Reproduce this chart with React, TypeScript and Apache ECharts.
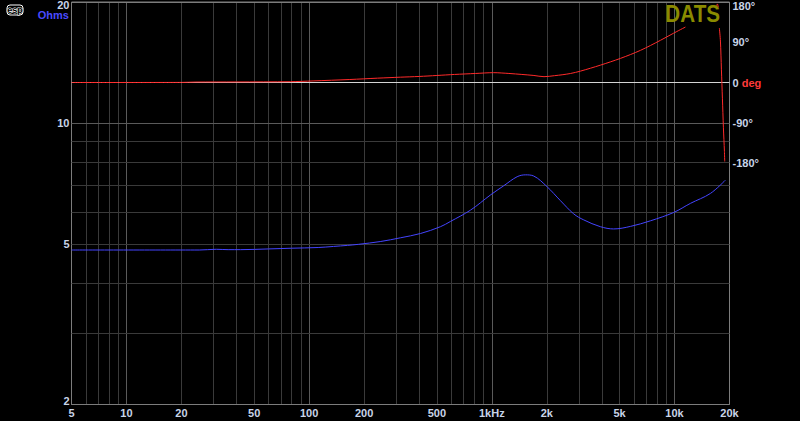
import React, { useEffect, useRef } from 'react';
import * as echarts from 'echarts';

// Impedance magnitude (Ohms) vs frequency (Hz)
const freqZ = [5, 25, 31, 36, 42, 60, 80, 112, 136, 162, 186, 245, 316, 407, 523, 594, 764, 982, 1162, 1375, 1527, 1696, 2008, 2374, 2808, 3185, 3931, 4648, 5738, 7380, 9900, 12220, 15725, 19000];
const ohms = [4.84, 4.84, 4.86, 4.85, 4.85, 4.87, 4.89, 4.91, 4.94, 4.97, 5.0, 5.08, 5.19, 5.32, 5.53, 5.7, 6.08, 6.63, 6.99, 7.36, 7.44, 7.39, 6.95, 6.42, 5.95, 5.75, 5.53, 5.46, 5.54, 5.72, 6.0, 6.32, 6.69, 7.22];

// Phase (degrees) vs frequency (Hz); null = gap in the trace
const freqP = [5, 20, 24, 40, 79, 105, 167, 237, 316, 400, 500, 625, 815, 1020, 1240, 1460, 1700, 1930, 2200, 2450, 2700, 3055, 3930, 5057, 6505, 8374, 9862, 11478, 14000, 16960, 17170, 17390, 17500, 17600, 17840, 18060, 18290, 18520, 18760, 18830];
const phaseDeg: (number | null)[] = [0, 0.2, 1, 1.2, 1.8, 3.5, 6.7, 9.7, 11.9, 13.5, 15.7, 18, 20.2, 22, 20.2, 18, 15.7, 13, 15.2, 17.5, 20.2, 25.4, 38.8, 53.9, 71.8, 94.3, 110, 124, null, 168, 175.7, 168, null, 121.8, 92.7, 29.8, -35, -100, -154, -176.6];

// Axes / grid
const freqGrid = [5, 6, 7, 8, 9, 10, 20, 30, 40, 50, 60, 70, 80, 90, 100, 200, 300, 400, 500, 600, 700, 800, 900, 1000, 2000, 3000, 4000, 5000, 6000, 7000, 8000, 9000, 10000, 20000];
const freqDecades = [10, 100, 1000, 10000];
const freqTicks = [5, 10, 20, 50, 100, 200, 500, 1000, 2000, 5000, 10000, 20000];
const freqTickLabels = ['5', '10', '20', '50', '100', '200', '500', '1kHz', '2k', '5k', '10k', '20k'];
const ohmGrid = [2, 3, 4, 5, 6, 7, 8, 9, 10, 20];
const ohmTicks = [2, 5, 10, 20];
const ohmTickLabels = ['2', '5', '10', '20'];
const phaseTicks = [180, 90, 0, -90, -180];
const phaseTickLabels = ['180°', '90°', '0 deg', '-90°', '-180°'];

const FONT = '"Liberation Sans", Arial, sans-serif';
const LABEL = '#c8d4e8';
const BORDER = '#7c7c7c';
const MINOR = '#3a3a3a';
const MAJOR = '#5a5a5a';

const txt = { color: LABEL, fontSize: 11, fontWeight: 'bold', fontFamily: FONT };

export default function App() {
  const ref = useRef<HTMLDivElement>(null);
  useEffect(() => {
    if (!ref.current) return;
    const chart = echarts.init(ref.current, null, { renderer: 'svg' });

    const xLines = freqGrid.map((f) => {
      const idx = freqTicks.indexOf(f);
      const edge = f === 5 || f === 20000;
      return {
        xAxis: f,
        name: idx >= 0 ? freqTickLabels[idx] : '',
        lineStyle: { color: edge ? BORDER : freqDecades.includes(f) ? MAJOR : MINOR },
        label: { show: idx >= 0, distance: 3 },
      };
    });
    const yLines = ohmGrid.map((v) => {
      const idx = ohmTicks.indexOf(v);
      const edge = v === 2 || v === 20;
      return {
        yAxis: v,
        name: idx >= 0 ? ohmTickLabels[idx] : '',
        lineStyle: { color: edge ? BORDER : v === 10 ? MAJOR : MINOR },
        label: { show: idx >= 0, distance: 2 },
      };
    });

    const option: any = {
      animation: false,
      backgroundColor: '#000',
      grid: {
        left: 71.5,
        top: 1.5,
        width: 658,
        height: 403,
        show: true,
        borderColor: BORDER,
        borderWidth: 1,
        backgroundColor: 'transparent',
      },
      xAxis: {
        type: 'log',
        logBase: 10,
        min: 5,
        max: 20000,
        axisLine: { show: false },
        axisTick: { show: false },
        axisLabel: { show: false },
        splitLine: { show: false },
      },
      yAxis: [
        {
          type: 'log',
          logBase: 10,
          min: 2,
          max: 20,
          axisLine: { show: false },
          axisTick: { show: false },
          axisLabel: { show: false },
          splitLine: { show: false },
        },
        {
          type: 'value',
          position: 'right',
          min: -720,
          max: 180,
          interval: 90,
          axisLine: { show: false },
          axisTick: { show: false },
          splitLine: { show: false },
          axisLabel: {
            margin: 3,
            ...txt,
            formatter: (v: number) => {
              const i = phaseTicks.indexOf(v);
              if (i < 0) return '';
              if (v === 180) return '{top|' + phaseTickLabels[i] + '}';
              if (v === 0) {
                const parts = phaseTickLabels[i].split(' ');
                return '{w|' + parts[0] + ' }{r|' + parts[1] + '}';
              }
              return '{w|' + phaseTickLabels[i] + '}';
            },
            rich: {
              top: { padding: [7, 0, 0, 0], ...txt },
              w: { ...txt },
              r: { ...txt, color: '#ff3a3a' },
            },
          },
        },
      ],
      graphic: [
        {
          type: 'text',
          x: 69,
          y: 15,
          style: {
            text: 'Ohms',
            fill: '#4a4aff',
            font: 'bold 11px ' + FONT,
            align: 'right',
            verticalAlign: 'middle',
          },
        },
        {
          type: 'text',
          x: 720,
          y: 14,
          z: 100,
          scaleX: 0.86,
          style: {
            text: 'DATS',
            fill: '#8a8a00',
            font: 'bold 24px ' + FONT,
            align: 'right',
            verticalAlign: 'middle',
          },
        },
        {
          type: 'rect',
          shape: { x: 7, y: 5, width: 16, height: 10, r: 3 },
          style: { fill: '#000', stroke: '#fff', lineWidth: 1 },
        },
        {
          type: 'text',
          x: 15,
          y: 10,
          style: {
            text: 'esp',
            fill: '#000',
            stroke: '#fff',
            lineWidth: 1,
            font: 'bold 9px ' + FONT,
            align: 'center',
            verticalAlign: 'middle',
          },
        },
      ],
      series: [
        {
          name: 'grid',
          type: 'line',
          data: [],
          silent: true,
          markLine: {
            silent: true,
            symbol: ['none', 'none'],
            animation: false,
            lineStyle: { type: 'solid', width: 1, color: MINOR },
            label: {
              position: 'start',
              distance: 2,
              ...txt,
              formatter: (p: any) => {
                if (p.name === '20' && p.data && p.data.yAxis != null) return '{t|20}';
                if (p.name === '2' && p.data && p.data.yAxis != null) return '{b|2}';
                return '{n|' + p.name + '}';
              },
              rich: {
                t: { ...txt, padding: [6, 0, 0, 0] },
                b: { ...txt, padding: [0, 0, 7, 0] },
                n: { ...txt },
              },
            },
            emphasis: { disabled: true },
            data: [...xLines, ...yLines],
          },
        },
        {
          name: 'Impedance',
          type: 'line',
          xAxisIndex: 0,
          yAxisIndex: 0,
          z: 10,
          symbol: 'none',
          smooth: 0.35,
          lineStyle: { color: '#4444ff', width: 1 },
          data: freqZ.map((f, i) => [f, ohms[i]]),
        },
        {
          name: 'Phase',
          type: 'line',
          xAxisIndex: 0,
          yAxisIndex: 1,
          z: 10,
          symbol: 'none',
          smooth: 0.3,
          connectNulls: false,
          lineStyle: { color: '#ff2a2a', width: 1 },
          data: freqP.map((f, i) => [f, phaseDeg[i] === null ? '-' : phaseDeg[i]]),
          markLine: {
            silent: true,
            symbol: ['none', 'none'],
            animation: false,
            label: { show: false },
            lineStyle: { type: 'solid', width: 1, color: '#d4d4d4' },
            emphasis: { disabled: true },
            data: [{ yAxis: 0 }],
          },
        },
      ],
    };
    chart.setOption(option);
    return () => chart.dispose();
  }, []);
  return (
    <div
      ref={ref}
      style={{ position: 'absolute', left: 0, top: 0, width: 800, height: 421, background: '#000' }}
    />
  );
}
